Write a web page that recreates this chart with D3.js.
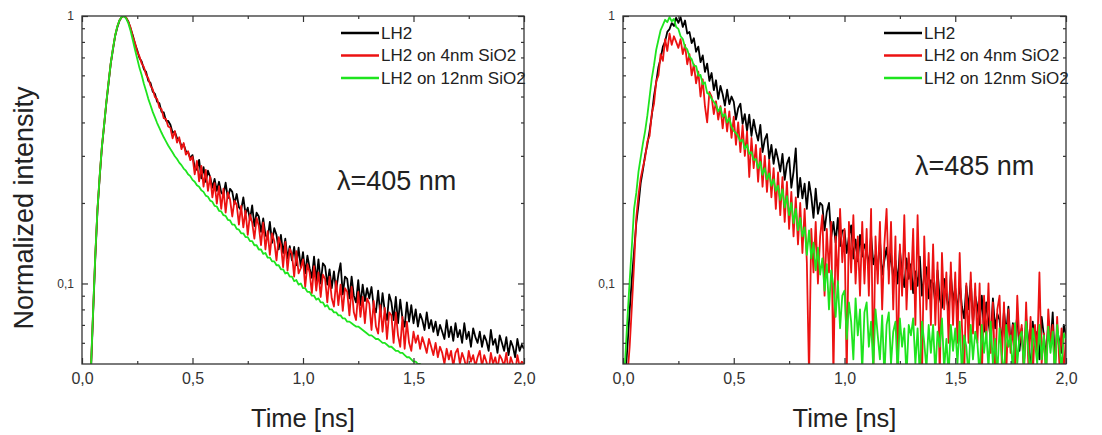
<!DOCTYPE html>
<html>
<head>
<meta charset="utf-8">
<script src="https://cdn.jsdelivr.net/npm/d3@7"></script>
<style>
  body { margin: 0; background: #fff; }
  svg { display: block; }
  text { font-family: "Liberation Sans", Arial, sans-serif; }
</style>
</head>
<body>
<svg id="chart" width="1102" height="435"></svg>
<script>
// Time-resolved fluorescence decays, sampled every 10 ps from t = 0
const timeStart = 0;
const timeStep = 0.01;

const seriesNames = ["LH2", "LH2 on 4nm SiO2", "LH2 on 12nm SiO2"];
const xTicks = [0, 0.5, 1, 1.5, 2];
const xTickLabels = ["0,0", "0,5", "1,0", "1,5", "2,0"];
const xMinorTicks = [0.25, 0.75, 1.25, 1.75];
const yTicks = [0.1, 1];
const yTickLabels = ["0,1", "1"];
const yMinorTicks = [0.06, 0.07, 0.08, 0.09, 0.2, 0.3, 0.4, 0.5, 0.6, 0.7, 0.8, 0.9];

// excitation 405 nm
const lh2_405 = [
  .030,.031,.032,.036,.046,.076,.124,.187,.249,.322,
  .388,.472,.558,.662,.748,.842,.908,.962,.992,1.0,
  .983,.952,.896,.845,.786,.744,.697,.676,.632,.618,
  .572,.562,.522,.512,.478,.472,.438,.436,.406,.405,
  .392,.366,.370,.349,.345,.326,.331,.312,.309,.294,
  .302,.272,.266,.290,.247,.272,.240,.264,.250,.228,
  .246,.222,.240,.219,.214,.238,.208,.226,.220,.198,
  .216,.193,.188,.210,.182,.192,.173,.196,.164,.184,
  .178,.156,.175,.152,.147,.170,.142,.161,.152,.134,
  .152,.130,.147,.124,.138,.122,.137,.117,.136,.115,
  .131,.109,.127,.114,.105,.126,.102,.123,.100,.119,
  .116,.099,.113,.096,.111,.094,.108,.119,.091,.106,
  .104,.088,.106,.090,.085,.103,.083,.099,.086,.096,
  .088,.097,.082,.078,.094,.076,.092,.079,.073,.091,
  .085,.073,.089,.071,.087,.074,.069,.085,.072,.083,
  .071,.080,.069,.077,.073,.067,.078,.068,.073,.066,
  .072,.064,.070,.066,.062,.073,.063,.069,.061,.071,
  .063,.067,.060,.071,.062,.066,.058,.068,.063,.060,
  .066,.058,.064,.061,.056,.067,.059,.062,.055,.064,
  .060,.056,.063,.054,.061,.058,.053,.062,.056,.059,
  .057
];
const sio4_405 = [
  .030,.031,.033,.037,.047,.078,.127,.190,.252,.325,
  .392,.475,.565,.665,.755,.845,.915,.965,.993,1.0,
  .987,.948,.905,.838,.792,.735,.706,.665,.645,.603,
  .585,.548,.532,.498,.490,.455,.448,.415,.412,.386,
  .382,.349,.371,.336,.352,.318,.335,.303,.312,.289,
  .298,.256,.287,.241,.275,.230,.266,.222,.251,.210,
  .237,.199,.231,.190,.226,.184,.219,.206,.178,.204,
  .197,.166,.195,.162,.187,.152,.181,.169,.147,.176,
  .164,.139,.169,.134,.157,.128,.154,.144,.122,.149,
  .140,.115,.143,.112,.135,.129,.106,.132,.109,.114,
  .123,.097,.118,.110,.092,.116,.094,.110,.089,.108,
  .104,.085,.106,.088,.082,.102,.083,.099,.079,.096,
  .093,.076,.097,.078,.073,.093,.075,.089,.071,.088,
  .084,.067,.086,.069,.065,.083,.066,.081,.062,.078,
  .076,.060,.078,.064,.058,.075,.057,.072,.060,.056,
  .066,.060,.064,.057,.063,.059,.055,.062,.058,.054,
  .060,.053,.058,.055,.050,.057,.052,.056,.049,.055,
  .057,.050,.055,.052,.048,.056,.051,.054,.049,.053,
  .056,.049,.054,.051,.047,.055,.050,.053,.048,.054,
  .052,.049,.055,.047,.053,.050,.046,.054,.049,.051,
  .050
];
const sio12_405 = [
  .030,.031,.033,.037,.047,.078,.127,.190,.252,.325,
  .392,.475,.565,.665,.755,.845,.915,.965,.993,1.0,
  .978,.938,.878,.812,.748,.692,.640,.602,.558,.524,
  .490,.464,.438,.418,.398,.382,.366,.352,.340,.328,
  .318,.309,.299,.292,.283,.277,.269,.264,.256,.252,
  .244,.240,.233,.230,.223,.220,.213,.211,.204,.202,
  .195,.194,.187,.186,.180,.179,.173,.172,.166,.166,
  .160,.159,.154,.154,.149,.149,.144,.144,.139,.139,
  .134,.134,.129,.130,.125,.125,.121,.121,.117,.117,
  .113,.113,.109,.110,.106,.106,.102,.103,.099,.100,
  .096,.096,.093,.093,.090,.090,.087,.088,.085,.085,
  .082,.083,.080,.080,.078,.078,.076,.076,.074,.074,
  .072,.072,.071,.070,.069,.069,.068,.067,.066,.065,
  .064,.064,.063,.062,.062,.061,.060,.060,.059,.058,
  .058,.057,.056,.056,.055,.055,.054,.053,.053,.052,
  .051,.051,.050,.050,.049,.049,.048,.048,.047,.047,
  .046,.046,.045,.045,.045,.044,.044,.044,.043,.043,
  .043,.043,.042,.042,.042,.042,.041,.041,.041,.041,
  .041,.040,.040,.040,.040,.040,.040,.039,.039,.039,
  .039,.039,.039,.038,.038,.038,.038,.038,.038,.038,
  .038
];

// excitation 485 nm
const lh2_485 = [
  .032,.044,.058,.079,.104,.132,.168,.197,.238,.266,
  .302,.331,.372,.425,.503,.566,.645,.694,.768,.802,
  .872,.893,.940,.918,.985,.942,.990,.910,.962,.860,
  .872,.792,.826,.735,.768,.672,.712,.618,.664,.572,
  .612,.528,.575,.490,.548,.510,.462,.530,.468,.500,
  .478,.410,.452,.470,.395,.430,.372,.428,.356,.410,
  .370,.342,.392,.310,.345,.362,.292,.330,.280,.318,
  .292,.262,.305,.244,.280,.296,.228,.262,.320,.210,
  .248,.208,.236,.190,.240,.212,.176,.226,.182,.200,
  .196,.158,.185,.200,.149,.170,.142,.176,.138,.158,
  .158,.130,.150,.165,.124,.146,.121,.152,.126,.140,
  .132,.116,.152,.118,.128,.112,.145,.108,.122,.136,
  .112,.130,.103,.122,.100,.134,.109,.097,.124,.104,
  .118,.092,.111,.098,.126,.090,.108,.115,.088,.103,
  .100,.084,.112,.088,.081,.104,.090,.079,.108,.086,
  .096,.078,.101,.082,.074,.098,.080,.103,.071,.090,
  .082,.070,.090,.066,.085,.072,.062,.088,.068,.077,
  .073,.060,.079,.065,.082,.058,.071,.063,.076,.056,
  .068,.050,.074,.061,.046,.072,.058,.066,.052,.075,
  .064,.053,.071,.058,.078,.050,.067,.061,.055,.070,
  .064
];
const sio4_485 = [
  .030,.036,.045,.058,.082,.118,.176,.214,.248,.272,
  .296,.340,.356,.432,.470,.570,.600,.720,.680,.820,
  .740,.860,.780,.840,.800,.760,.820,.720,.780,.660,
  .720,.600,.660,.560,.620,.500,.580,.460,.400,.520,
  .500,.430,.480,.410,.460,.380,.450,.370,.440,.350,
  .420,.330,.400,.310,.390,.300,.370,.250,.350,.270,
  .330,.240,.320,.230,.300,.220,.290,.210,.270,.190,
  .260,.180,.250,.170,.240,.160,.220,.150,.210,.140,
  .200,.130,.190,.120,.045,.160,.110,.170,.100,.150,
  .180,.090,.160,.110,.170,.045,.150,.100,.190,.120,
  .160,.045,.170,.110,.180,.100,.150,.090,.170,.100,
  .160,.090,.190,.045,.150,.100,.170,.080,.140,.190,
  .100,.170,.080,.150,.045,.140,.090,.180,.080,.130,
  .095,.160,.070,.180,.090,.045,.150,.080,.130,.070,
  .140,.070,.120,.045,.130,.080,.110,.060,.120,.070,
  .110,.060,.130,.070,.045,.100,.060,.110,.065,.100,
  .060,.100,.045,.090,.060,.100,.055,.085,.045,.080,
  .090,.050,.085,.045,.080,.055,.070,.045,.090,.060,
  .070,.045,.085,.050,.075,.045,.070,.055,.110,.050,
  .065,.045,.080,.060,.070,.045,.075,.050,.068,.045,
  .065
];
const sio12_485 = [
  .040,.052,.074,.102,.138,.190,.218,.262,.296,.334,
  .372,.425,.498,.585,.655,.748,.815,.886,.925,.968,
  .948,.990,.955,.975,.910,.895,.840,.820,.765,.750,
  .705,.690,.652,.650,.598,.602,.556,.565,.515,.510,
  .490,.478,.465,.440,.455,.420,.430,.400,.415,.385,
  .372,.365,.355,.340,.345,.318,.330,.305,.310,.290,
  .292,.270,.285,.255,.270,.245,.258,.232,.245,.222,
  .232,.205,.225,.192,.212,.180,.200,.168,.190,.158,
  .176,.150,.162,.128,.158,.124,.142,.112,.136,.108,
  .124,.094,.118,.080,.112,.098,.075,.102,.068,.090,
  .094,.062,.085,.072,.052,.088,.064,.080,.047,.078,
  .085,.058,.072,.048,.080,.064,.052,.076,.045,.070,
  .078,.050,.066,.072,.046,.074,.058,.068,.045,.070,
  .064,.074,.050,.068,.045,.072,.060,.048,.070,.055,
  .070,.046,.066,.058,.074,.048,.062,.045,.070,.056,
  .068,.050,.072,.046,.064,.058,.045,.070,.052,.066,
  .060,.045,.070,.055,.066,.048,.072,.050,.062,.046,
  .068,.054,.045,.070,.058,.064,.046,.071,.050,.063,
  .066,.048,.072,.056,.045,.068,.060,.050,.070,.052,
  .064,.046,.069,.055,.066,.045,.070,.058,.048,.065,
  .062
];

const seriesColors = ["#000000", "#ec1212", "#1ee41e"];

const panels = [
  { left: 82, right: 524, label: "\u03bb=405 nm", labelX: 337, labelY: 190,
    legendX: 341, series: [lh2_405, sio4_405, sio12_405] },
  { left: 623, right: 1066, label: "\u03bb=485 nm", labelX: 915, labelY: 175,
    legendX: 884, series: [lh2_485, sio4_485, sio12_485] }
];

const plotTop = 16, plotBottom = 364;
const svg = d3.select("#chart");
const axisColor = "#333";

// shared y-axis title
svg.append("text")
  .attr("transform", `translate(24,208) rotate(-90)`)
  .attr("text-anchor", "middle")
  .attr("dy", "0.35em")
  .attr("font-size", 27)
  .attr("fill", "#222")
  .text("Normalized intensity");

panels.forEach((p, pi) => {
  const x = d3.scaleLinear().domain([0, 2]).range([p.left, p.right]);
  const y = d3.scaleLog().domain([0.05, 1]).range([plotBottom, plotTop]);
  const g = svg.append("g");

  const clipId = "clip" + pi;
  g.append("clipPath").attr("id", clipId)
    .append("rect").attr("x", p.left).attr("y", plotTop)
    .attr("width", p.right - p.left).attr("height", plotBottom - plotTop);

  // decay curves
  const line = d3.line()
    .x((d, i) => x(timeStart + i * timeStep))
    .y(d => y(d));
  const curves = g.append("g").attr("clip-path", `url(#${clipId})`);
  p.series.forEach((s, si) => {
    curves.append("path")
      .datum(s)
      .attr("fill", "none")
      .attr("stroke", seriesColors[si])
      .attr("stroke-width", 1.8)
      .attr("stroke-linejoin", "round")
      .attr("d", line);
  });

  // axes with inward ticks on all four sides
  const styleAxis = sel => {
    sel.select(".domain").remove();
    sel.selectAll(".tick line").attr("stroke", axisColor).attr("stroke-width", 1.2);
  };
  g.append("g").attr("transform", `translate(0,${plotBottom})`)
    .call(d3.axisBottom(x).tickValues(xTicks).tickSize(-6).tickPadding(9)
      .tickFormat((d, i) => xTickLabels[i]))
    .call(styleAxis)
    .call(a => a.selectAll("text").attr("font-size", 16).attr("fill", "#333")
      .attr("font-family", "Liberation Sans, Arial, sans-serif"));
  g.append("g").attr("transform", `translate(0,${plotBottom})`)
    .call(d3.axisBottom(x).tickValues(xMinorTicks).tickSize(-3).tickFormat(""))
    .call(styleAxis);
  g.append("g").attr("transform", `translate(0,${plotTop})`)
    .call(d3.axisTop(x).tickValues(xTicks).tickSize(-6).tickFormat(""))
    .call(styleAxis);
  g.append("g").attr("transform", `translate(0,${plotTop})`)
    .call(d3.axisTop(x).tickValues(xMinorTicks).tickSize(-3).tickFormat(""))
    .call(styleAxis);

  g.append("g").attr("transform", `translate(${p.left},0)`)
    .call(d3.axisLeft(y).tickValues(yTicks).tickSize(-6).tickPadding(8)
      .tickFormat((d, i) => yTickLabels[i]))
    .call(styleAxis)
    .call(a => a.selectAll("text").attr("font-size", 12).attr("fill", "#333")
      .attr("font-family", "Liberation Sans, Arial, sans-serif"));
  g.append("g").attr("transform", `translate(${p.left},0)`)
    .call(d3.axisLeft(y).tickValues(yMinorTicks).tickSize(-3).tickFormat(""))
    .call(styleAxis);
  g.append("g").attr("transform", `translate(${p.right},0)`)
    .call(d3.axisRight(y).tickValues(yTicks).tickSize(-6).tickFormat(""))
    .call(styleAxis);
  g.append("g").attr("transform", `translate(${p.right},0)`)
    .call(d3.axisRight(y).tickValues(yMinorTicks).tickSize(-3).tickFormat(""))
    .call(styleAxis);

  // frame
  g.append("rect")
    .attr("x", p.left).attr("y", plotTop)
    .attr("width", p.right - p.left).attr("height", plotBottom - plotTop)
    .attr("fill", "none").attr("stroke", axisColor).attr("stroke-width", 1.3);

  // x-axis title
  g.append("text")
    .attr("x", (p.left + p.right) / 2).attr("y", 427)
    .attr("text-anchor", "middle")
    .attr("font-size", 25.5).attr("fill", "#222")
    .text("Time [ns]");

  // wavelength annotation
  g.append("text")
    .attr("x", p.labelX).attr("y", p.labelY)
    .attr("font-size", 27).attr("fill", "#222")
    .text(p.label);

  // legend
  const legend = g.append("g");
  seriesNames.forEach((name, si) => {
    const ly = 33 + si * 22.5;
    legend.append("line")
      .attr("x1", p.legendX).attr("x2", p.legendX + 38)
      .attr("y1", ly).attr("y2", ly)
      .attr("stroke", seriesColors[si]).attr("stroke-width", 2.5);
    legend.append("text")
      .attr("x", p.legendX + 40).attr("y", ly)
      .attr("dy", "0.35em")
      .attr("font-size", 17).attr("fill", "#222")
      .text(name);
  });
});
</script>
</body>
</html>
